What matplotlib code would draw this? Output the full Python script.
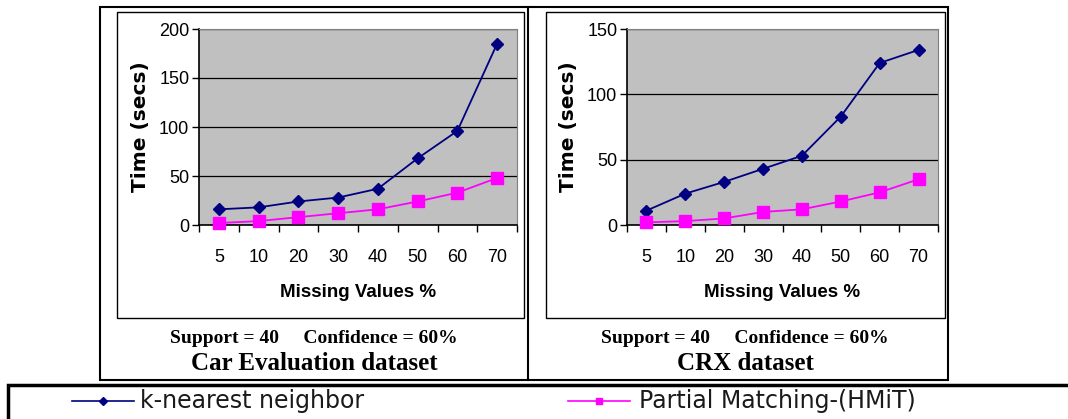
import matplotlib
matplotlib.use('Agg')
import matplotlib.pyplot as plt
from matplotlib.patches import Rectangle
from matplotlib.lines import Line2D

# 数据
missing_pct = ['5', '10', '20', '30', '40', '50', '60', '70']
car_knn = [16, 18, 24, 28, 37, 68, 96, 185]
car_hmit = [2, 4, 8, 12, 16, 24, 33, 48]
crx_knn = [11, 24, 33, 43, 53, 83, 124, 134]
crx_hmit = [2, 3, 5, 10, 12, 18, 25, 35]

panels = [
    ('Car Evaluation dataset', car_knn, car_hmit, [0, 50, 100, 150, 200]),
    ('CRX dataset', crx_knn, crx_hmit, [0, 50, 100, 150]),
]

W, H = 1068, 419
fig = plt.figure(figsize=(W / 100, H / 100), dpi=100)
plt.rcParams['font.family'] = ['Liberation Sans', 'DejaVu Sans']


def fx(px):
    return px / W


def fy(py):
    return 1 - py / H


def frame(x0, y0, x1, y1, lw):
    fig.add_artist(Rectangle((fx(x0), fy(y1)), fx(x1 - x0), (y1 - y0) / H,
                             transform=fig.transFigure, fill=False,
                             edgecolor='black', linewidth=lw))


# 外框和内框
frame(100, 7, 948, 380, 1.5)
fig.add_artist(Line2D([fx(528), fx(528)], [fy(7), fy(380)],
                      transform=fig.transFigure, color='black', lw=1.5))
frame(117, 12, 524, 318, 1.0)
frame(546, 12, 945, 318, 1.0)

# 坐标区位置 (像素)
axes_px = [(199, 517), (627, 938)]
caption_cx = [314, 745]

for (title, knn, hmit, yticks), (ax0, ax1), cx in zip(panels, axes_px, caption_cx):
    ax = fig.add_axes([fx(ax0), fy(225), fx(ax1 - ax0), (225 - 29) / H])
    ax.set_facecolor('#C0C0C0')
    x = range(len(missing_pct))
    ax.plot(x, knn, color='#000080', marker='D', markersize=6.5, lw=1.3,
            zorder=3, clip_on=False)
    ax.plot(x, hmit, color='#FF00FF', marker='s', markersize=8, lw=1.3,
            zorder=3, clip_on=False)
    ax.set_xlim(-0.5, len(missing_pct) - 0.5)
    ax.set_ylim(yticks[0], yticks[-1])
    ax.set_yticks(yticks)
    ax.set_yticklabels([str(t) for t in yticks], fontsize=13)
    ax.yaxis.grid(True, color='black', lw=0.9)
    ax.set_axisbelow(True)
    # 类别边界刻度 + 居中标签
    ax.set_xticks([i - 0.5 for i in range(len(missing_pct) + 1)])
    ax.set_xticklabels([])
    ax.tick_params(axis='x', which='major', length=5, direction='out', width=1)
    ax.set_xticks(list(x), minor=True)
    ax.set_xticklabels(missing_pct, minor=True, fontsize=13)
    ax.tick_params(axis='x', which='minor', length=0, pad=17)
    ax.tick_params(axis='y', length=5, width=1, pad=2)
    for s in ['top', 'right']:
        ax.spines[s].set_color('#808080')
        ax.spines[s].set_linewidth(0.8)
    ax.spines['left'].set_linewidth(1.2)
    ax.spines['bottom'].set_linewidth(1.2)
    ax.set_xlabel('Missing Values %', fontsize=13.5, fontweight='bold')
    ax.set_ylabel('Time (secs)', fontsize=14.5, fontweight='bold',
                  family='DejaVu Sans')
    ax.xaxis.set_label_coords(0.5, (225 - 284) / 196, transform=ax.transAxes)
    ax.yaxis.set_label_coords(-49 / (ax1 - ax0), 0.5, transform=ax.transAxes)

    fig.text(fx(cx), fy(338), 'Support = 40     Confidence = 60%',
             ha='center', va='center', fontsize=14, fontweight='bold',
             family='Liberation Serif')
    fig.text(fx(cx), fy(363), title, ha='center', va='center',
             fontsize=18, fontweight='bold', family='Liberation Serif')

# 图例框
fig.add_artist(Rectangle((fx(8), -0.05), fx(1100), fy(385) + 0.05,
                         transform=fig.transFigure, fill=False,
                         edgecolor='black', linewidth=2.5, clip_on=False))
leg_y = fy(401)
fig.add_artist(Line2D([fx(72), fx(134)], [leg_y, leg_y], transform=fig.transFigure,
                      color='#000080', lw=1.2))
fig.add_artist(Line2D([fx(103)], [leg_y], transform=fig.transFigure, color='#000080',
                      marker='D', markersize=4, lw=0))
fig.text(fx(140), leg_y, 'k-nearest neighbor', va='center', ha='left',
         fontsize=17, family='DejaVu Sans', color='#1a1a1a')
fig.add_artist(Line2D([fx(568), fx(630)], [leg_y, leg_y], transform=fig.transFigure,
                      color='#FF00FF', lw=1.2))
fig.add_artist(Line2D([fx(599)], [leg_y], transform=fig.transFigure, color='#FF00FF',
                      marker='s', markersize=5, lw=0))
fig.text(fx(639), leg_y, 'Partial Matching-(HMiT)', va='center', ha='left',
         fontsize=17, family='DejaVu Sans', color='#1a1a1a')

fig.savefig('out.png', dpi=100)
